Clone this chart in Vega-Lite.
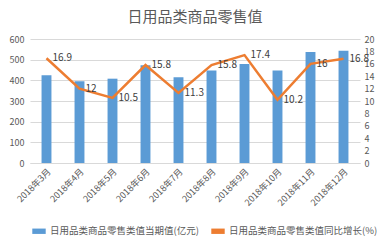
{
  "$schema": "https://vega.github.io/schema/vega-lite/v6.json",
  "width": 330,
  "height": 124,
  "autosize": {"type": "none"},
  "padding": {"left": 30, "top": 39, "right": 25, "bottom": 77},
  "background": "white",
  "title": {"text": "日用品类商品零售值", "fontSize": 15, "fontWeight": "normal", "color": "#595959", "font": "Noto Sans CJK SC", "offset": 10},
  "config": {
    "view": {"stroke": null},
    "font": "Noto Sans CJK SC",
    "axis": {"labelColor": "#595959", "labelFontSize": 9, "ticks": false, "domain": false, "title": null}
  },
  "data": {"values": [
    {"month": "2018年3月", "value": 424, "growth": 16.9},
    {"month": "2018年4月", "value": 395, "growth": 12},
    {"month": "2018年5月", "value": 408, "growth": 10.5},
    {"month": "2018年6月", "value": 473, "growth": 15.8},
    {"month": "2018年7月", "value": 415, "growth": 11.3},
    {"month": "2018年8月", "value": 448, "growth": 15.8},
    {"month": "2018年9月", "value": 479, "growth": 17.4},
    {"month": "2018年10月", "value": 448, "growth": 10.2},
    {"month": "2018年11月", "value": 537, "growth": 16},
    {"month": "2018年12月", "value": 543, "growth": 16.8}
  ]},
  "encoding": {
    "x": {"field": "month", "type": "nominal", "sort": null,
      "scale": {"paddingInner": 0.7, "paddingOuter": 0.35},
      "axis": {"labelAngle": -45, "domain": true, "domainColor": "#d9d9d9", "labelPadding": 4}}
  },
  "layer": [
    {
      "mark": {"type": "bar", "color": "#5B9BD5"},
      "encoding": {
        "y": {"field": "value", "type": "quantitative", "scale": {"domain": [0, 600]},
          "axis": {"values": [0, 100, 200, 300, 400, 500, 600], "grid": true, "gridColor": "#d9d9d9", "labelPadding": 6}},
        "color": {"datum": "日用品类商品零售类值当期值(亿元)", "type": "nominal",
          "scale": {"domain": ["日用品类商品零售类值当期值(亿元)", "日用品类商品零售类值同比增长(%)"], "range": ["#5B9BD5", "#ED7D31"]},
          "legend": {"orient": "none", "legendX": 2, "legendY": 185, "direction": "horizontal", "title": null,
            "symbolType": "M-1,-0.4H1V0.4H-1Z", "symbolSize": 180, "symbolStrokeWidth": 0,
            "labelFontSize": 9.5, "labelColor": "#595959", "columnPadding": 12}}
      }
    },
    {
      "layer": [
        {
          "mark": {"type": "line", "color": "#ED7D31", "strokeWidth": 2.5},
          "encoding": {
            "y": {"field": "growth", "type": "quantitative", "scale": {"domain": [0, 20]},
              "axis": {"orient": "right", "values": [0, 2, 4, 6, 8, 10, 12, 14, 16, 18, 20], "grid": false, "labelPadding": 4}},
            "color": {"datum": "日用品类商品零售类值同比增长(%)", "type": "nominal"}
          }
        },
        {
          "mark": {"type": "text", "align": "left", "dx": 6, "fontSize": 10, "color": "#404040"},
          "encoding": {
            "y": {"field": "growth", "type": "quantitative", "scale": {"domain": [0, 20]},
              "axis": {"orient": "right", "values": [0, 2, 4, 6, 8, 10, 12, 14, 16, 18, 20], "grid": false, "labelPadding": 4}},
            "text": {"field": "growth", "type": "quantitative"}
          }
        }
      ]
    }
  ],
  "resolve": {"scale": {"y": "independent"}}
}
